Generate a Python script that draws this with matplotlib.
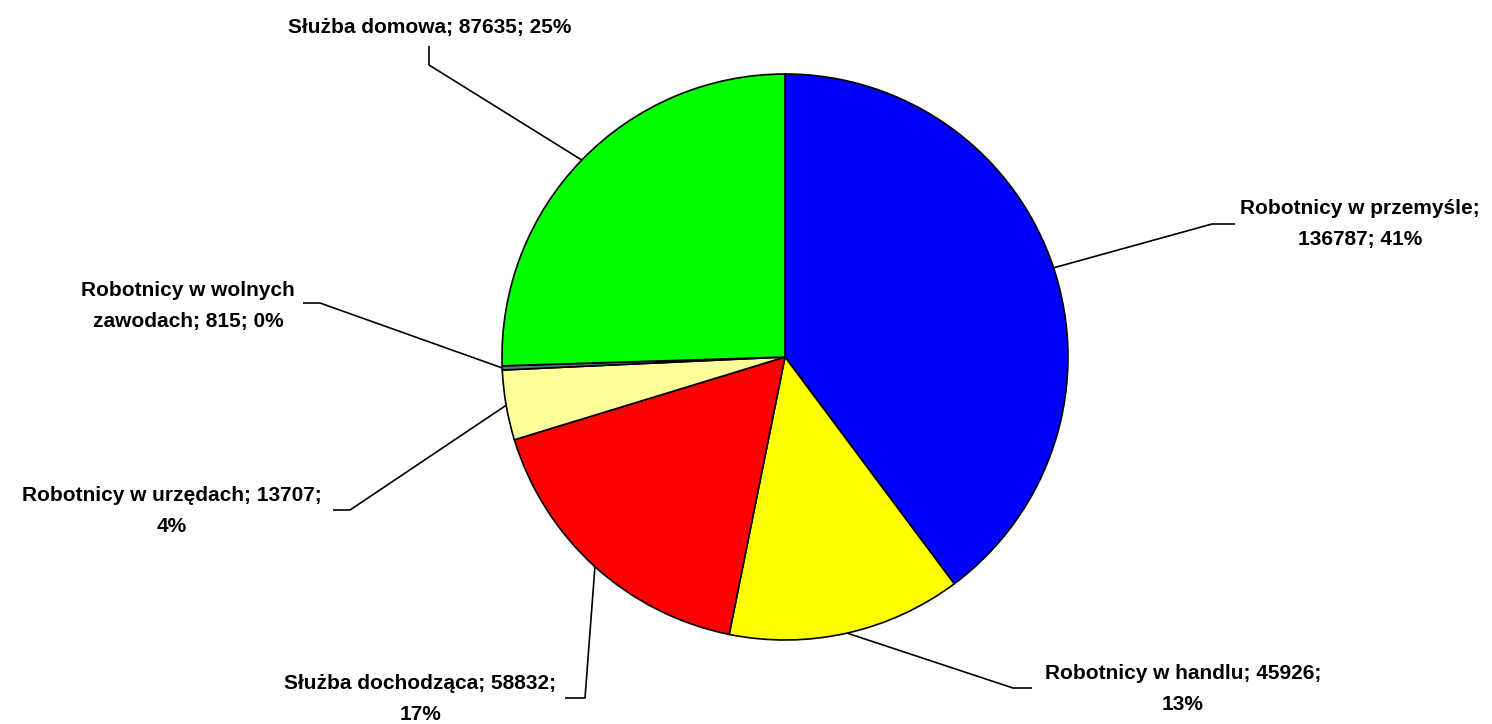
import numpy as np
import matplotlib.pyplot as plt
from matplotlib import font_manager

# dane
kategorie = ["Robotnicy w przemyśle", "Robotnicy w handlu", "Służba dochodząca",
             "Robotnicy w urzędach", "Robotnicy w wolnych zawodach", "Służba domowa"]
wartosci = [136787, 45926, 58832, 13707, 815, 87635]
procenty = ["41%", "13%", "17%", "4%", "0%", "25%"]
etykiety = [
    "Robotnicy w przemyśle;\n136787; 41%",
    "Robotnicy w handlu; 45926;\n13%",
    "Służba dochodząca; 58832;\n17%",
    "Robotnicy w urzędach; 13707;\n4%",
    "Robotnicy w wolnych\nzawodach; 815; 0%",
    "Służba domowa; 87635; 25%",
]
kolory = ["#0000FF", "#FFFF00", "#FF0000", "#FFFF99", "#4A7F86", "#00FF00"]

nazwy = {f.name for f in font_manager.fontManager.ttflist}
rodzina = "Liberation Sans Narrow" if "Liberation Sans Narrow" in nazwy else "Liberation Sans"

W, H = 1492, 724
cx, cy, R = 785, 357, 283  # piksele

fig = plt.figure(figsize=(W / 100, H / 100), dpi=100)
ax = fig.add_axes([0, 0, 1, 1])


def px(x, y):
    return (x - cx) / R, (cy - y) / R


wedges, _ = ax.pie(wartosci, colors=kolory, startangle=90, counterclock=False,
                   radius=1.0, wedgeprops=dict(edgecolor="black", linewidth=1.2))

# pie() ustawia własne granice - nadpisujemy je po rysowaniu
ax.set_xlim(-cx / R, (W - cx) / R)
ax.set_ylim(-(H - cy) / R, cy / R)
ax.set_aspect("equal")
ax.axis("off")

# pozycje tekstu i punkty załamania linii (piksele)
tekst_xy = [(1360, 224), (1183, 689), (420, 699), (172, 511), (188, 306), (430, 27)]
lamanie = [
    [(1212, 224), (1235, 224)],
    [(1013, 688), (1032, 688)],
    [(585, 698), (565, 698)],
    [(350, 510), (333, 510)],
    [(320, 303), (303, 303)],
    [(429, 65), (429, 46)],
]

for w, lab, txy, pts in zip(wedges, etykiety, tekst_xy, lamanie):
    th = np.deg2rad((w.theta1 + w.theta2) / 2)
    xs = [np.cos(th)] + [px(*p)[0] for p in pts]
    ys = [np.sin(th)] + [px(*p)[1] for p in pts]
    ax.plot(xs, ys, color="black", linewidth=1.2, solid_capstyle="butt")
    tx, ty = px(*txy)
    ax.text(tx, ty, lab, ha="center", va="center", multialignment="center",
            fontsize=15, fontweight="bold", family=rodzina, linespacing=1.85)

fig.savefig("out.png", dpi=100)
